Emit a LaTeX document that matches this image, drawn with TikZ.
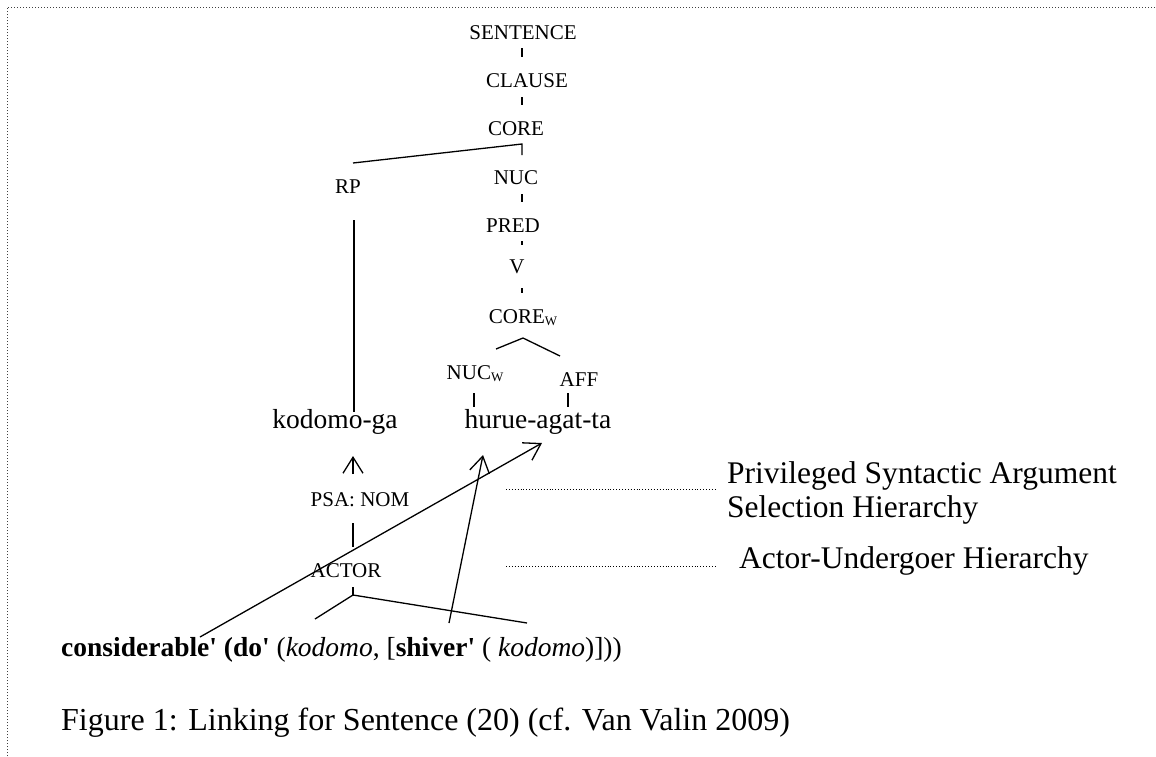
\documentclass[tikz,border=0pt]{standalone}
\usepackage{fontspec}
\setmainfont{Liberation Serif}
\newfontfamily\nolig{Liberation Serif}
\usetikzlibrary{arrows.meta}
\newcommand{\subW}{\raisebox{-0.3ex}{\fontsize{13}{13}\selectfont W}}
\newcommand{\ap}{{\nolig'}}
\begin{document}
\begin{tikzpicture}[x=1pt,y=-1pt,
  lab/.style={font=\fontsize{21}{21}\selectfont, inner sep=0pt, anchor=base},
  word/.style={font=\fontsize{27.5}{27.5}\selectfont, inner sep=0pt, anchor=base},
  hier/.style={font=\fontsize{31.5}{31.5}\selectfont, inner sep=0pt, anchor=base west},
  capt/.style={font=\fontsize{32}{32}\selectfont, inner sep=0pt, anchor=base west},
  tree/.style={line width=1.3pt},
  arr/.style={tree, -{Straight Barb[length=16pt,width=20pt,line width=1.3pt]}},
  leader/.style={dotted, line width=0.9pt},
  frm/.style={dotted, line width=1pt, black!75}]
\useasboundingbox (0,0) rectangle (1156,756);

% frame
\coordinate (f1) at (7,756);
\coordinate (f2) at (7,7);
\coordinate (f3) at (1156,7);
\draw[frm] (f1) -- (f2) -- (f3);

% tree labels
\node[lab] (sent) at (523,39) {SENTENCE};
\node[lab] (clause) at (527,87) {CLAUSE};
\node[lab] (core) at (516,135) {CORE};
\node[lab] (nuc) at (516,184) {NUC};
\node[lab] (rp) at (348,193) {RP};
\node[lab] (pred) at (513,232) {PRED};
\node[lab] (v) at (517,273) {V};
\node[lab] (corew) at (523,323) {CORE\subW};
\node[lab] (nucw) at (475,379) {NUC\subW};
\node[lab] (aff) at (579,386) {AFF};
\node[word] (kodomo) at (335,428) {kodomo-ga};
\node[word] (hurue) at (538,428) {hurue-agat-ta};
\node[lab] (psa) at (360,506) {PSA: NOM};
\node[lab] (actor) at (346,577) {ACTOR};

\node[word, anchor=base west] (formula) at (61,656)
  {\textbf{considerable\ap} \textbf{(do\ap} (\textit{kodomo}, [\textbf{shiver\ap} ( \textit{kodomo})]))};

\node[hier] (psh1) at (727,483) {Privileged Syntactic Argument};
\node[hier] (psh2) at (727,517) {Selection Hierarchy};
\node[hier] (auh) at (739,568) {Actor-Undergoer Hierarchy};

\node[capt] (cap) at (61,730) {Figure 1: Linking for Sentence (20) (cf. Van Valin 2009)};

% connector end points
\coordinate (t1a) at (522,48);  \coordinate (t1b) at (522,57);
\coordinate (t2a) at (522,97);  \coordinate (t2b) at (522,105);
\coordinate (t3a) at (522,144); \coordinate (t3b) at (522,155);
\coordinate (rptop) at (353,163);
\coordinate (t4a) at (522,194); \coordinate (t4b) at (522,202);
\coordinate (t5a) at (522,241); \coordinate (t5b) at (522,245);
\coordinate (rpa) at (354,220); \coordinate (rpb) at (354,412);
\coordinate (t6a) at (522,288); \coordinate (t6b) at (522,293);
\coordinate (cwa) at (523,338); \coordinate (cwl) at (496,349); \coordinate (cwr) at (560,356);
\coordinate (nwa) at (474,393); \coordinate (nwb) at (474,407);
\coordinate (afa) at (568,393); \coordinate (afb) at (568,407);
\coordinate (psaA) at (353,474); \coordinate (psaB) at (353,456);
\coordinate (acA) at (353,523);  \coordinate (acB) at (353,547);
\coordinate (abA) at (353,587);  \coordinate (abB) at (353,595);
\coordinate (abL) at (315,619);  \coordinate (abR) at (527,623);
\coordinate (lgA) at (200,637);  \coordinate (lgB) at (542,443);
\coordinate (shA) at (449,623);  \coordinate (shB) at (483,455);
\coordinate (d1a) at (506,489);  \coordinate (d1b) at (716,489);
\coordinate (d2a) at (506,566);  \coordinate (d2b) at (716,566);

% tree lines
\draw[tree] (t1a) -- (t1b);
\draw[tree] (t2a) -- (t2b);
\draw[tree] (t3b) -- (t3a) -- (rptop);
\draw[tree] (t4a) -- (t4b);
\draw[tree] (t5a) -- (t5b);
\draw[tree] (rpa) -- (rpb);
\draw[tree] (t6a) -- (t6b);
\draw[tree] (cwl) -- (cwa) -- (cwr);
\draw[tree] (nwa) -- (nwb);
\draw[tree] (afa) -- (afb);
\draw[tree] (acA) -- (acB);
\draw[tree] (abA) -- (abB);
\draw[tree] (abL) -- (abB) -- (abR);

% arrows
\draw[arr] (psaA) -- (psaB);
\draw[arr] (lgA) -- (lgB);
\draw[arr] (shA) -- (shB);

% leaders
\draw[leader] (d1a) -- (d1b);
\draw[leader] (d2a) -- (d2b);
\end{tikzpicture}
\end{document}
